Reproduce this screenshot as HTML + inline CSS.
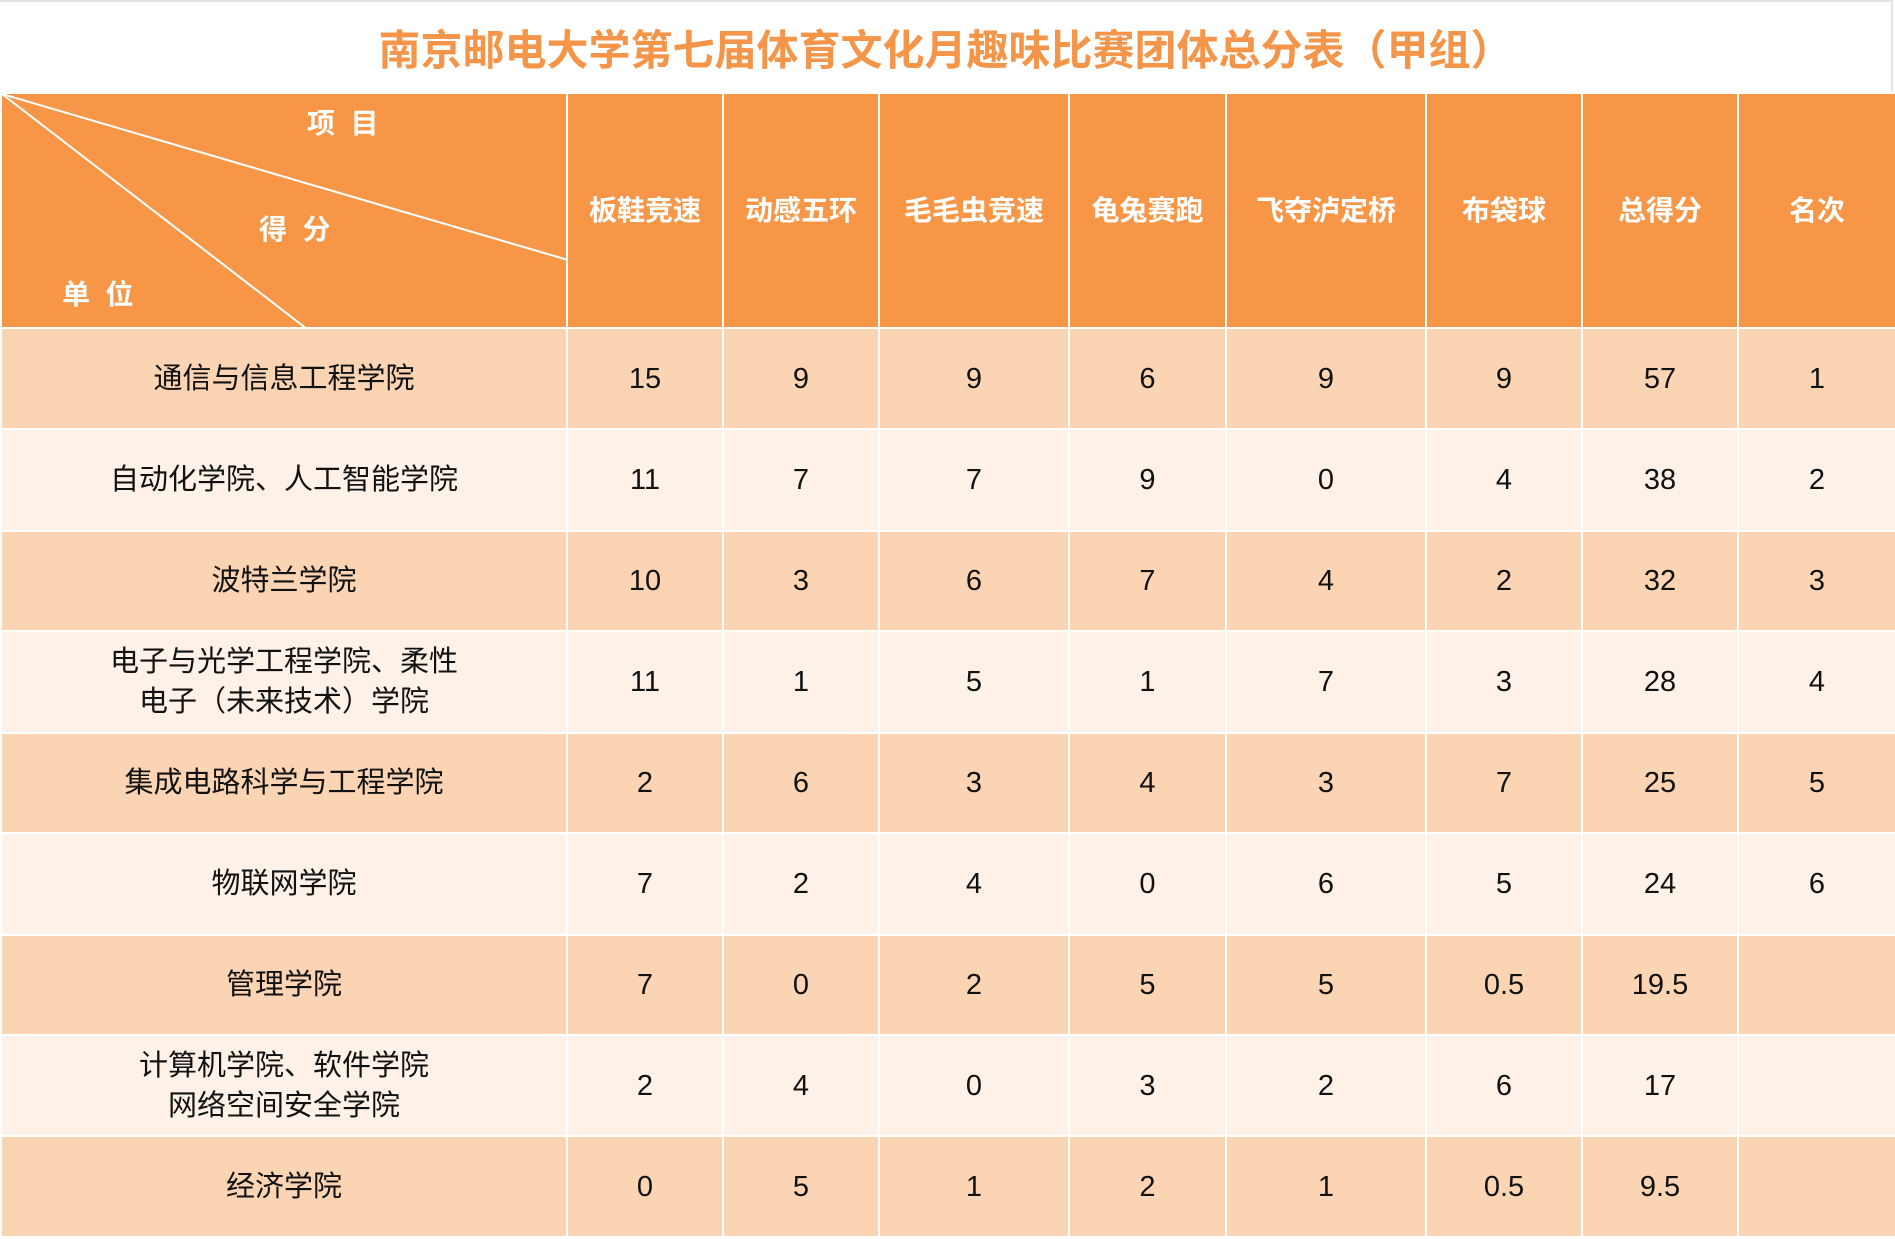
<!DOCTYPE html>
<html><head><meta charset="utf-8"><style>
html,body{margin:0;padding:0;background:#fff;}
body{width:1895px;height:1239px;position:relative;overflow:hidden;font-family:"Liberation Sans","Noto Sans CJK SC",sans-serif;}
.title{position:absolute;left:0;top:0;width:1893px;height:92px;border-top:2px solid #e4e4e4;border-right:2px solid #e4e4e4;box-sizing:border-box;text-align:center;line-height:98px;font-size:42px;font-weight:bold;color:#f4954a;letter-spacing:0px;}
table{position:absolute;left:0;top:92px;border-collapse:collapse;table-layout:fixed;width:1895px;}
td{border:2px solid #fff;text-align:center;vertical-align:middle;font-size:29px;color:#111;padding:0;line-height:40px;}
tr.h td{background:#f79646;color:#fff;font-weight:bold;height:233px;font-size:28px;}
tr.o td{background:#fbd4b4;}
tr.e td{background:#fdf1e8;}
</style></head><body>
<div class="title">南京邮电大学第七届体育文化月趣味比赛团体总分表（甲组）</div>
<table>
<colgroup><col style="width:566px"><col style="width:156px"><col style="width:156px"><col style="width:190px"><col style="width:157px"><col style="width:200px"><col style="width:156px"><col style="width:156px"><col style="width:158px"></colgroup>
<tr class="h"><td style="position:relative;padding:0">
<svg width="566" height="235" style="position:absolute;left:0;top:0">
<line x1="0" y1="0" x2="566" y2="166" stroke="#fff" stroke-width="2"/>
<line x1="0" y1="0" x2="305" y2="235" stroke="#fff" stroke-width="2"/>
</svg>
<div style="position:absolute;left:305px;top:10px;font-size:28px">项&nbsp;&nbsp;目</div>
<div style="position:absolute;left:257px;top:116px;font-size:28px">得&nbsp;&nbsp;分</div>
<div style="position:absolute;left:60px;top:181px;font-size:28px">单&nbsp;&nbsp;位</div>
</td><td>板鞋竞速</td><td>动感五环</td><td>毛毛虫竞速</td><td>龟兔赛跑</td><td>飞夺泸定桥</td><td>布袋球</td><td>总得分</td><td>名次</td></tr>
<tr class="o" style="height:101px"><td>通信与信息工程学院</td><td>15</td><td>9</td><td>9</td><td>6</td><td>9</td><td>9</td><td>57</td><td>1</td></tr>
<tr class="e" style="height:102px"><td>自动化学院、人工智能学院</td><td>11</td><td>7</td><td>7</td><td>9</td><td>0</td><td>4</td><td>38</td><td>2</td></tr>
<tr class="o" style="height:100px"><td>波特兰学院</td><td>10</td><td>3</td><td>6</td><td>7</td><td>4</td><td>2</td><td>32</td><td>3</td></tr>
<tr class="e" style="height:102px"><td>电子与光学工程学院、柔性<br>电子（未来技术）学院</td><td>11</td><td>1</td><td>5</td><td>1</td><td>7</td><td>3</td><td>28</td><td>4</td></tr>
<tr class="o" style="height:100px"><td>集成电路科学与工程学院</td><td>2</td><td>6</td><td>3</td><td>4</td><td>3</td><td>7</td><td>25</td><td>5</td></tr>
<tr class="e" style="height:102px"><td>物联网学院</td><td>7</td><td>2</td><td>4</td><td>0</td><td>6</td><td>5</td><td>24</td><td>6</td></tr>
<tr class="o" style="height:100px"><td>管理学院</td><td>7</td><td>0</td><td>2</td><td>5</td><td>5</td><td>0.5</td><td>19.5</td><td></td></tr>
<tr class="e" style="height:101px"><td>计算机学院、软件学院<br>网络空间安全学院</td><td>2</td><td>4</td><td>0</td><td>3</td><td>2</td><td>6</td><td>17</td><td></td></tr>
<tr class="o" style="height:101px"><td>经济学院</td><td>0</td><td>5</td><td>1</td><td>2</td><td>1</td><td>0.5</td><td>9.5</td><td></td></tr>
</table>
</body></html>
